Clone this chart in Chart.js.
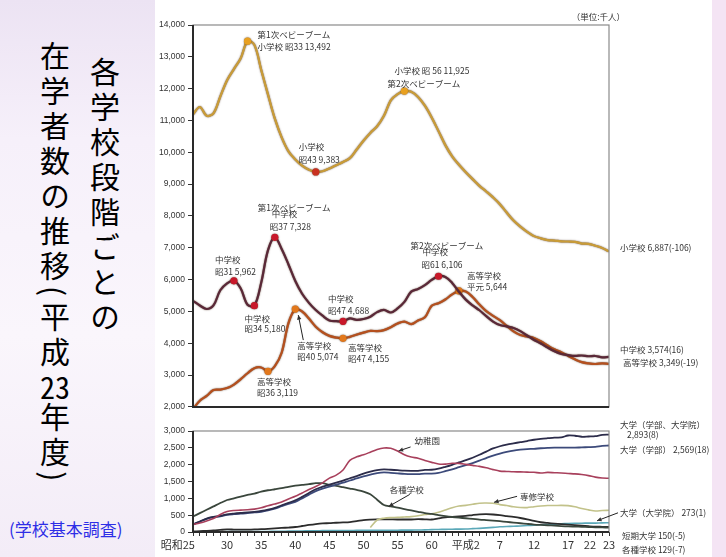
<!DOCTYPE html>
<html>
<head>
<meta charset="utf-8">
<script src="https://cdn.jsdelivr.net/npm/chart.js@4.4.1/dist/chart.umd.min.js"></script>
<style>
body{margin:0;width:726px;height:557px;position:relative;overflow:hidden;background:#fff;font-family:"Noto Sans CJK JP",sans-serif}
#side{position:absolute;left:0;top:0;width:155px;height:557px;
  background:linear-gradient(to bottom,#ece3f3 0%,#f6f0fa 25%,#faf6fc 60%,#f3ecf7 100%)}
#strip{position:absolute;left:712px;top:0;width:14px;height:557px;background:#f4e4f4}
.vt{position:absolute;writing-mode:vertical-rl;font-size:30px;line-height:30px;letter-spacing:5px;color:#000}
.tcy{text-combine-upright:all}
#t1{left:90px;top:57px}
#t2{left:40px;top:41px}
#src{position:absolute;left:9px;top:516px;font-size:17px;color:#2e2ee6;white-space:nowrap}
canvas{position:absolute;left:150px}
#topChart{top:0}
#botChart{top:415px}
</style>
</head>
<body>
<div id="side"></div>
<div id="strip"></div>
<div class="vt" id="t1">各学校段階ごとの</div>
<div class="vt" id="t2">在学者数の推移(平成<span class="tcy">23</span>年度)</div>
<div id="src">(学校基本調査)</div>
<canvas id="topChart" width="576" height="415"></canvas>
<canvas id="botChart" width="576" height="142"></canvas>
<script>
// 昭和25 ～ 平成23 (昭和換算 25..86)
var years = [25,26,27,28,29,30,31,32,33,34,35,36,37,38,39,40,41,42,43,44,
  45,46,47,48,49,50,51,52,53,54,55,56,57,58,59,60,61,62,63,64,
  65,66,67,68,69,70,71,72,73,74,75,76,77,78,79,80,81,82,83,84,85,86];
var xTickYears = [25,30,35,40,45,50,55,60,65,70,75,80,85,86];
var xTickLabels = ['昭和25','30','35','40','45','50','55','60','平成2','7','12','17','22','23'];
var topTicks = [2000,3000,4000,5000,6000,7000,8000,9000,10000,11000,12000,13000,14000];
var bottomTicks = [0,500,1000,1500,2000,2500,3000];

// 上段（千人）
var elementary = [11191,11423,11148,11225,11751,12267,12616,12956,13492,13375,
  12591,11811,11057,10471,10031,9776,9584,9453,9383,9403,
  9493,9596,9696,9816,10089,10365,10609,10819,11146,11630,
  11827,11925,11902,11739,11465,11095,10665,10226,9873,9607,
  9373,9157,8947,8769,8582,8370,8106,7855,7664,7500,
  7366,7297,7239,7227,7201,7197,7188,7133,7122,7064,6993,6887];
var juniorHigh = [5333,5188,5076,5187,5664,5884,5962,5718,5210,5180,
  5900,6925,7328,6964,6476,5957,5555,5270,5044,4865,
  4717,4694,4688,4779,4736,4762,4833,4978,5048,4966,
  5094,5300,5623,5707,5828,5990,6106,6082,5896,5619,
  5370,5189,5037,4850,4681,4571,4528,4481,4381,4244,
  4104,3992,3863,3748,3664,3627,3602,3615,3592,3600,3558,3574];
var highSchool = [1935,2193,2344,2529,2545,2592,2702,2873,3057,3216,
  3239,3119,3282,3701,4634,5074,4997,4775,4521,4346,
  4232,4178,4155,4202,4270,4333,4386,4381,4414,4504,
  4622,4682,4601,4717,4814,5178,5259,5376,5534,5644,
  5623,5455,5218,5010,4862,4725,4547,4372,4258,4212,
  4166,4062,3930,3810,3720,3605,3495,3407,3367,3348,3369,3349];

// 下段（千人）
var kindergarten = [225,270,330,400,520,610,640,650,660,680,
  720,780,830,890,980,1060,1160,1260,1350,1460,
  1600,1690,1842,2129,2233,2293,2372,2453,2497,2487,
  2407,2293,2227,2193,2124,2068,2019,2017,2041,2037,
  2008,1978,1949,1908,1853,1809,1799,1789,1786,1778,
  1774,1753,1770,1761,1753,1739,1727,1706,1675,1630,1606,1596];
var univTotal = [225,313,400,447,478,523,547,565,580,600,
  626,664,718,795,868,938,1044,1160,1270,1345,
  1407,1467,1529,1597,1659,1734,1792,1839,1862,1849,
  1835,1822,1817,1818,1844,1849,1880,1934,1994,2066,
  2133,2205,2293,2389,2482,2547,2597,2634,2668,2701,
  2740,2766,2786,2804,2809,2866,2859,2829,2837,2846,2887,2893];
var univUndergrad = [220,305,390,440,465,509,530,545,560,580,
  601,640,692,765,835,896,1000,1110,1215,1290,
  1345,1405,1465,1530,1590,1652,1705,1750,1770,1757,
  1741,1726,1718,1718,1735,1734,1755,1806,1858,1925,
  1988,2048,2120,2197,2270,2330,2380,2420,2445,2462,
  2471,2487,2499,2508,2505,2508,2505,2514,2520,2527,2559,2569];
var miscSchools = [460,560,660,760,860,950,1000,1050,1100,1140,
  1200,1240,1270,1300,1340,1375,1400,1420,1450,1450,
  1400,1370,1330,1290,1250,1200,1120,960,800,760,
  724,680,640,600,560,536,500,470,445,425,
  408,390,370,355,340,322,300,280,260,240,
  222,210,200,188,175,165,160,155,148,140,136,129];
var specialTraining = [null,null,null,null,null,null,null,null,null,null,
  null,null,null,null,null,null,null,null,null,null,
  null,null,null,null,null,null,131,357,411,428,
  433,445,458,482,518,538,588,655,722,772,
  791,822,856,861,852,814,785,749,727,725,
  751,772,786,786,792,783,750,697,658,624,637,645];
var juniorCollege = [15,26,35,46,62,77,73,70,71,76,
  83,93,107,120,132,148,178,210,237,256,
  263,275,284,296,321,354,368,375,379,375,
  371,372,372,383,375,371,405,434,450,462,
  479,504,524,530,520,499,473,447,416,378,
  328,290,268,250,234,219,202,186,172,160,155,150];
var graduate = [0,0,0,1,5,10,12,14,15,15,
  16,17,19,22,25,28,31,35,38,40,
  41,42,44,46,47,48,50,52,53,53,
  54,55,57,59,63,70,75,79,83,86,
  90,99,109,122,138,154,164,171,179,191,
  205,216,223,232,244,254,261,262,263,263,272,273];

// 注記
var topMarkYears = [[33,43,56],[31,34,37,47,61],[36,40,47,64]];
var topNoteSeries = [0,0,0,1,1,1,1,1,2,2,2,2];
var topNoteYears = [33,43,56,37,31,34,47,61,36,40,47,64];
var topNoteTexts = [
  ['第1次ベビーブーム','小学校 昭33 13,492'],
  ['小学校','昭43 9,383'],
  ['小学校 昭 56 11,925','第2次ベビーブーム'],
  ['第1次ベビーブーム','中学校','昭37 7,328'],
  ['中学校','昭31 5,962'],
  ['中学校','昭34 5,180'],
  ['中学校','昭47 4,688'],
  ['第2次ベビーブーム','中学校','昭61 6,106'],
  ['高等学校','昭36 3,119'],
  ['高等学校','昭40 5,074'],
  ['高等学校','昭47 4,155'],
  ['高等学校','平元 5,644']
];
var topEndTexts = [['小学校 6,887(-106)'],['中学校 3,574(16)'],['高等学校 3,349(-19)']];
var botNoteSeries = [0,3,4];
var botNoteYears = [55,54,69];
var botNoteTexts = [['幼稚園'],['各種学校'],['専修学校']];
var botEndTexts = [['大学（学部、大学院）','2,893(8)'],['大学（学部） 2,569(18)'],
  ['大学（大学院） 273(1)'],['短期大学 150(-5)'],['各種学校 129(-7)']];
var botEndSeries = [1,2,6,5,3];

// 配置（px）
var topNoteOffsets = [
  [[10,-6],[10,6]], [[-17,-25],[-17,-12]], [[-10,-20],[-17,-7]],
  [[-17,-30],[-3,-24],[-5,-11]], [[-19,-21],[-19,-9]], [[-10,13],[-10,23]],
  [[-15,-23],[-15,-11]], [[-28,-30],[-16,-24],[-17,-11]], [[-11,10],[-11,21]],
  [[2,37],[2,48]], [[5,9],[5,20]], [[8,-15],[8,-4]]
];
var topNoteArrows = {9:[8,31,3,6]};
var topEndOffsets = [[[11,-4]],[[11,-7]],[[14,-1]]];
var botNoteOffsets = [[[17,-10]],[[-1,-17]],[[27,-7]]];
var botNoteArrows = {0:[13,-4,1,0],1:[19,-12,-2,0],2:[24,-7,1,-1]};
var botEndOffsets = [[[11,-10],[18,0]],[[11,4]],[[11,-10]],[[13,9]],[[13,22]]];
var botEndArrows = {2:[9,-10,-12,-2]};
// 目盛ラベルの寄せ（figure space で左へずらす）
var tickPad = {25:'\u2007\u2007\u2007\u2007\u2007', 85:'\u2007\u2007\u2007\u2007'};

function pts(arr){
  return years.map(function(yr,i){ return {x:yr, y:arr[i]}; });
}
function valueAt(arr, yr){ return arr[years.indexOf(yr)]; }

function arrow(ctx, x1, y1, x2, y2){
  ctx.beginPath(); ctx.moveTo(x1,y1); ctx.lineTo(x2,y2); ctx.stroke();
  var a = Math.atan2(y2-y1, x2-x1), s = 5;
  ctx.beginPath();
  ctx.moveTo(x2,y2);
  ctx.lineTo(x2 - s*Math.cos(a-0.45), y2 - s*Math.sin(a-0.45));
  ctx.lineTo(x2 - s*Math.cos(a+0.45), y2 - s*Math.sin(a+0.45));
  ctx.closePath(); ctx.fill();
}

function decor(series, notes, ends, unit, shadow){
  return {
    id: 'decor',
    beforeDatasetsDraw: function(chart){
      if (!shadow) return;
      chart.ctx.save();
      chart.ctx.shadowColor = shadow;
      chart.ctx.shadowBlur = 1.5;
    },
    afterDatasetsDraw: function(chart){
      if (shadow) chart.ctx.restore();
    },
    afterDraw: function(chart){
      var ctx = chart.ctx, a = chart.chartArea, xs = chart.scales.x, ys = chart.scales.y;
      ctx.save();
      ctx.strokeStyle = '#8a8a8a'; ctx.lineWidth = 1.2;
      ctx.strokeRect(a.left, a.top, a.right - a.left, a.bottom - a.top);
      ctx.strokeStyle = '#2a2a2a'; ctx.lineWidth = 2;
      ctx.beginPath(); ctx.moveTo(a.left, a.top); ctx.lineTo(a.left, a.bottom); ctx.lineTo(a.right, a.bottom); ctx.stroke();
      ctx.fillStyle = '#333'; ctx.strokeStyle = '#222'; ctx.lineWidth = 1;
      ctx.font = '8.5px "Noto Sans CJK JP"';
      ctx.textBaseline = 'middle'; ctx.textAlign = 'left';
      notes.series.forEach(function(si, k){
        var yr = notes.years[k];
        var px = xs.getPixelForValue(yr), py = ys.getPixelForValue(valueAt(series[si], yr));
        notes.texts[k].forEach(function(t, j){
          ctx.fillText(t, px + notes.offsets[k][j][0], py + notes.offsets[k][j][1]);
        });
        var ar = notes.arrows[k];
        if (ar) arrow(ctx, px+ar[0], py+ar[1], px+ar[2], py+ar[3]);
      });
      ends.series.forEach(function(si, k){
        var arr = series[si];
        var px = a.right, py = ys.getPixelForValue(arr[arr.length-1]);
        ends.texts[k].forEach(function(t, j){
          ctx.fillText(t, px + ends.offsets[k][j][0], py + ends.offsets[k][j][1]);
        });
        var ar = ends.arrows[k];
        if (ar) arrow(ctx, px+ar[0], py+ar[1], px+ar[2], py+ar[3]);
      });
      if (unit){
        ctx.textAlign = 'right';
        ctx.fillText(unit, a.right + 16, a.top - 8);
      }
      ctx.restore();
    }
  };
}

function yAxis(min, max, ticks){
  return {
    type: 'linear', min: min, max: max,
    afterFit: function(s){ s.width = 43; },
    afterBuildTicks: function(s){ s.ticks = ticks.map(function(v){ return {value:v}; }); },
    grid: {display: true, drawOnChartArea: false, drawTicks: true, tickLength: 5, color: '#333'},
    border: {display: false},
    ticks: {padding: 3, color: '#333', font: {family: 'Liberation Sans', size: 8.5},
      callback: function(v){ return v.toLocaleString('en-US'); }}
  };
}

var topSeries = [elementary, juniorHigh, highSchool];
var topColors = ['#c99c38', '#5a2838', '#b5501e'];
var topMarkColors = ['#e8a020', '#c8182a', '#e2781c'];
var topMinColor = '#c83020';

new Chart(document.getElementById('topChart'), {
  type: 'line',
  data: {
    datasets: topSeries.map(function(arr, i){
      return {
        data: pts(arr), borderColor: topColors[i], borderWidth: 2.2, tension: 0.35,
        pointRadius: function(c){ return c.raw && topMarkYears[i].indexOf(c.raw.x) >= 0 ? 3.6 : 0; },
        pointBackgroundColor: function(c){ return (i === 0 && c.raw && c.raw.x === 43) ? topMinColor : topMarkColors[i]; },
        pointBorderWidth: 0
      };
    })
  },
  options: {
    responsive: false, animation: false, events: [],
    layout: {padding: {top: 25, right: 117, bottom: 8, left: 0}},
    plugins: {legend: {display: false}, tooltip: {enabled: false}},
    scales: {
      x: {type: 'linear', min: 25, max: 86, display: false},
      y: yAxis(2000, 14000, topTicks)
    }
  },
  plugins: [decor(topSeries,
    {series: topNoteSeries, years: topNoteYears, texts: topNoteTexts, offsets: topNoteOffsets, arrows: topNoteArrows},
    {series: [0,1,2], texts: topEndTexts, offsets: topEndOffsets, arrows: {}},
    '（単位:千人）', 'rgba(60,30,10,0.8)')]
});

var botSeries = [kindergarten, univTotal, univUndergrad, miscSchools, specialTraining, juniorCollege, graduate];
var botColors = ['#a8405c', '#2c2c4a', '#3c4a7a', '#3a463c', '#c2c28a', '#2c2c2c', '#5aa8b8'];
var botWidths = [1.6, 1.8, 1.8, 1.8, 1.6, 1.8, 1.6];

new Chart(document.getElementById('botChart'), {
  type: 'line',
  data: {
    datasets: botSeries.map(function(arr, i){
      return {data: pts(arr), borderColor: botColors[i], borderWidth: botWidths[i], tension: 0.3, pointRadius: 0, spanGaps: false};
    })
  },
  options: {
    responsive: false, animation: false, events: [],
    layout: {padding: {top: 16, right: 117, bottom: 0, left: 0}},
    plugins: {legend: {display: false}, tooltip: {enabled: false}},
    scales: {
      x: {
        type: 'linear', min: 25, max: 86,
        afterFit: function(s){ s.height = 25; },
        afterBuildTicks: function(s){ s.ticks = years.map(function(v){ return {value:v}; }); },
        grid: {display: true, drawOnChartArea: false, drawTicks: true, tickLength: 4, color: '#333'},
        border: {display: false},
        ticks: {autoSkip: false, maxRotation: 0, minRotation: 0, padding: 2, color: '#333',
          font: {family: '"Noto Sans CJK JP"', size: 11},
          callback: function(v){
            var k = xTickYears.indexOf(v);
            return k >= 0 ? xTickLabels[k] + (tickPad[v] || '') : '';
          }}
      },
      y: yAxis(0, 3000, bottomTicks)
    }
  },
  plugins: [decor(botSeries,
    {series: botNoteSeries, years: botNoteYears, texts: botNoteTexts, offsets: botNoteOffsets, arrows: botNoteArrows},
    {series: botEndSeries, texts: botEndTexts, offsets: botEndOffsets, arrows: botEndArrows},
    null, null)]
});
</script>
</body>
</html>
